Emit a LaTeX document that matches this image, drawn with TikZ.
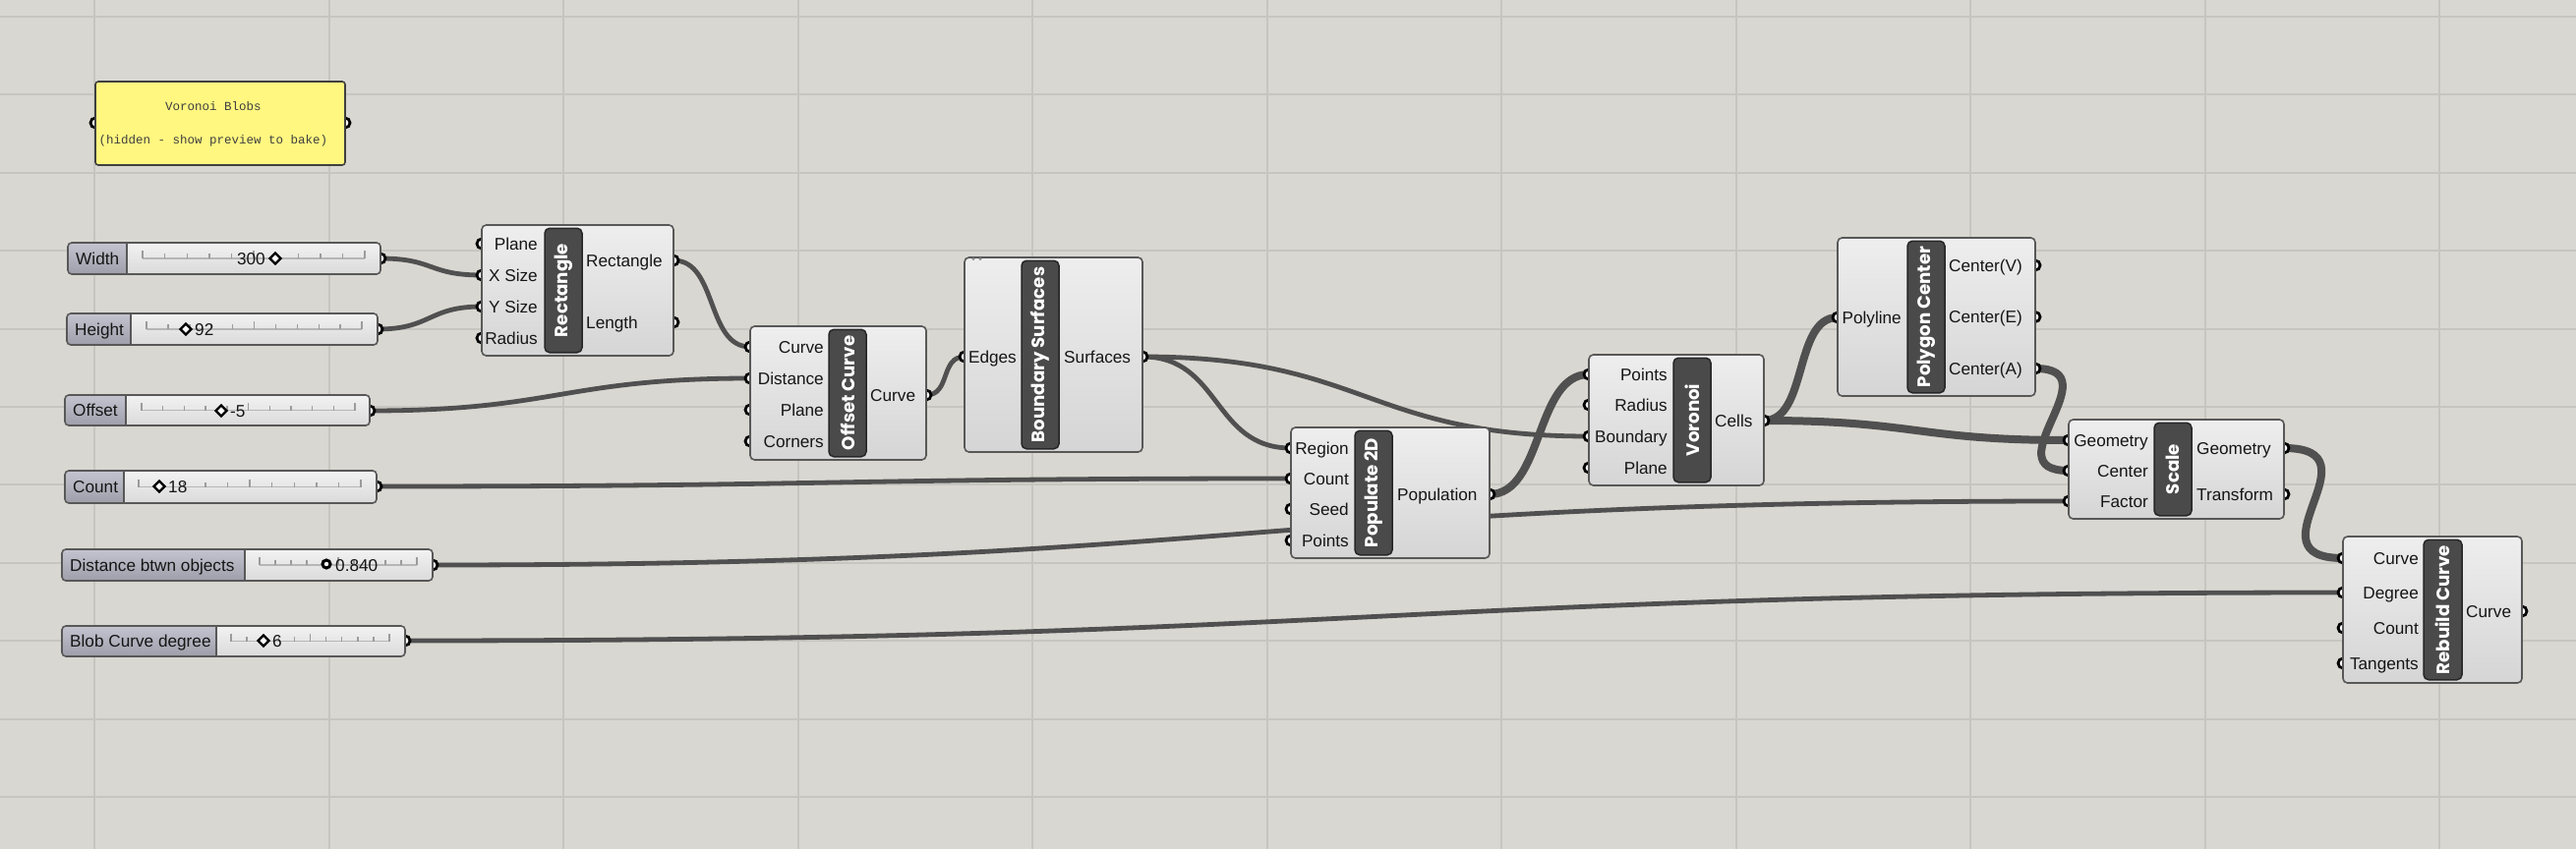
\documentclass[tikz,border=0pt]{standalone}
\usepackage{fontspec}
\setmainfont{Liberation Sans}
\newfontfamily\ghtitle{Poppins}
\newfontfamily\ghmono{Liberation Mono}
\definecolor{canvas}{RGB}{217,215,209}
\definecolor{gridc}{RGB}{199,197,191}
\definecolor{wirec}{RGB}{80,80,80}
\definecolor{boxedge}{RGB}{88,88,88}
\definecolor{barc}{RGB}{74,74,74}
\definecolor{paneyel}{RGB}{255,247,128}
\definecolor{comptop}{RGB}{238,238,238}
\definecolor{compbot}{RGB}{213,213,213}
\definecolor{labtop}{RGB}{196,196,208}
\definecolor{labbot}{RGB}{158,158,170}
\definecolor{slidtop}{RGB}{242,242,242}
\definecolor{slidbot}{RGB}{218,218,218}
\definecolor{trackc}{RGB}{182,182,182}
\definecolor{textc}{RGB}{22,22,22}
\newcommand\portfont{\fontsize{17.2}{20}\selectfont}
\tikzset{
  gridl/.style={draw=gridc, line width=2},
  wire/.style={draw=wirec, line width=4.8},
  wirelist/.style={draw=wirec, line width=8},
  gripc/.style={draw=black, fill=white, line width=2.8},
  compbox/.style={draw=boxedge, line width=1.6, rounded corners=4.5, top color=comptop, bottom color=compbot, inner sep=0},
  titlebar/.style={draw=black!85, line width=1.5, fill=barc, rounded corners=5, text=white, inner sep=0,
    font=\ghtitle\bfseries\fontsize{18.2}{20}\selectfont, rotate=90},
  portlab/.style={inner sep=0, text=textc, font=\portfont},
  sliderbox/.style={draw=boxedge, line width=1.6, rounded corners=4, inner sep=0},
  tickc/.style={draw=trackc!85!black, line width=1.4},
  trackl/.style={draw=trackc, line width=1.5},
  diamc/.style={draw=black, fill=white, line width=2.2},
  valtext/.style={inner sep=0, text=textc, font=\portfont},
  panelbox/.style={draw=black!75, line width=1.6, fill=paneyel, rounded corners=3, inner sep=0},
  paneltext/.style={inner sep=0, text=black!75, font=\ghmono\fontsize{12.5}{14}\selectfont},
}
% component: name, x1, y1, x2, y2, bar x1, bar x2, title
\newcommand\ghcomp[8]{%
  \node[compbox, minimum width={#4-#2}, minimum height={#5-#3}] (#1) at ({(#2+#4)/2},{(#3+#5)/2}) {};
  \node[titlebar, minimum width={#5-#3-6.5}, minimum height={#7-#6}] (#1-title) at ({(#6+#7)/2},{(#3+#5)/2}) {#8};
}
% slider: name, x1, y1, x2, y2, divider, label, track x1, track x2
\newcommand\ghslider[9]{%
  \begin{scope}
    \clip[rounded corners=4] (#2,#3) rectangle (#4,#5);
    \shade[top color=slidtop, bottom color=slidbot] (#2,#3) rectangle (#4,#5);
    \shade[top color=labtop, bottom color=labbot] (#2,#3) rectangle (#6,#5);
  \end{scope}
  \draw[draw=boxedge, line width=1.6] (#6,#3) -- (#6,#5);
  \node[sliderbox, minimum width={#4-#2}, minimum height={#5-#3}] (#1) at ({(#2+#4)/2},{(#3+#5)/2}) {};
  \node[portlab, anchor=base west] (#1-lab) at ({#2+8},{(#3+#5)/2+6}) {#7};
  \draw[trackl] (#8,{(#3+#5)/2}) -- (#9,{(#3+#5)/2});
  \foreach \i in {0,...,10} {
    \pgfmathsetmacro\th{(mod(\i,5)==0)?8:5}
    \draw[tickc] ({#8+(#9-#8)*\i/10},{(#3+#5)/2}) -- ++(0,-\th);
  }
}
\newcommand\ghdiamond[2]{\draw[diamc] (#1,{#2-5.5}) -- ({#1+5.5},#2) -- (#1,{#2+5.5}) -- ({#1-5.5},#2) -- cycle;}
\newcommand\inl[4]{\node[portlab, anchor=base east] (#1) at (#2,{#3+6}) {#4};}
\newcommand\outl[4]{\node[portlab, anchor=base west] (#1) at (#2,{#3+6}) {#4};}

\begin{document}
\begin{tikzpicture}[x=1pt,y=-1pt]
\fill[canvas] (0,0) rectangle (2620,864);
\useasboundingbox (0,0) rectangle (2620,864);
\foreach \k in {0,...,10} {
  \draw[gridl] ({96+238.5*\k},0) -- ({96+238.5*\k},864);
  \draw[gridl] (0,{17+79.4*\k}) -- (2620,{17+79.4*\k});
}

% ---------- grip coordinates ----------
\coordinate (pn-i) at (97,125);   \coordinate (pn-o) at (351,125);
\coordinate (sw-o) at (387,263);
\coordinate (sh-o) at (384,335);
\coordinate (so-o) at (376,418);
\coordinate (sc-o) at (383,495);
\coordinate (sd-o) at (440,575);
\coordinate (sb-o) at (412,652);
\coordinate (rect-i1) at (490,248); \coordinate (rect-i2) at (490,280);
\coordinate (rect-i3) at (490,312); \coordinate (rect-i4) at (490,344);
\coordinate (rect-o1) at (685,265); \coordinate (rect-o2) at (685,328);
\coordinate (oc-i1) at (763,353); \coordinate (oc-i2) at (763,385);
\coordinate (oc-i3) at (763,417); \coordinate (oc-i4) at (763,449);
\coordinate (oc-o1) at (942,402);
\coordinate (bs-i1) at (981,363); \coordinate (bs-o1) at (1162,363);
\coordinate (pop-i1) at (1313,456); \coordinate (pop-i2) at (1313,487);
\coordinate (pop-i3) at (1313,518); \coordinate (pop-i4) at (1313,550);
\coordinate (pop-o1) at (1515,503);
\coordinate (vor-i1) at (1616,381); \coordinate (vor-i2) at (1616,412);
\coordinate (vor-i3) at (1616,444); \coordinate (vor-i4) at (1616,476);
\coordinate (vor-o1) at (1794,428);
\coordinate (pc-i1) at (1869,323);
\coordinate (pc-o1) at (2070,270); \coordinate (pc-o2) at (2070,322.5); \coordinate (pc-o3) at (2070,375);
\coordinate (scl-i1) at (2104,448); \coordinate (scl-i2) at (2104,479); \coordinate (scl-i3) at (2104,510);
\coordinate (scl-o1) at (2323,456); \coordinate (scl-o2) at (2323,503);
\coordinate (rb-i1) at (2383,568); \coordinate (rb-i2) at (2383,603);
\coordinate (rb-i3) at (2383,639); \coordinate (rb-i4) at (2383,675);
\coordinate (rb-o1) at (2565,622);

% ---------- wires ----------
\draw[wire] (sw-o) .. controls +(55,0) and +(-55,0) .. (rect-i2);
\draw[wire] (sh-o) .. controls +(55,0) and +(-55,0) .. (rect-i3);
\draw[wire] (rect-o1) .. controls +(45,0) and +(-45,0) .. (oc-i1);
\draw[wire] (so-o) .. controls +(190,0) and +(-190,0) .. (oc-i2);
\draw[wire] (oc-o1) .. controls +(25,0) and +(-25,0) .. (bs-i1);
\draw[wire] (bs-o1) .. controls +(80,0) and +(-80,0) .. (pop-i1);
\draw[wire] (bs-o1) .. controls +(227,0) and +(-227,0) .. (vor-i3);
\draw[wire] (sc-o) .. controls +(465,0) and +(-465,0) .. (pop-i2);
\draw[wire] (sd-o) .. controls +(830,0) and +(-830,0) .. (scl-i3);
\draw[wire] (sb-o) .. controls +(986,0) and +(-986,0) .. (rb-i2);
\draw[wirelist] (pop-o1) .. controls +(55,0) and +(-55,0) .. (vor-i1);
\draw[wirelist] (vor-o1) .. controls +(45,0) and +(-45,0) .. (pc-i1);
\draw[wirelist] (vor-o1) .. controls +(155,0) and +(-155,0) .. (scl-i1);
\draw[wirelist] (pc-o3) .. controls +(80,0) and +(-80,0) .. (scl-i2);
\draw[wirelist] (scl-o1) .. controls +(100,0) and +(-100,0) .. (rb-i1);

% ---------- grips ----------
\foreach \g in {pn-i,pn-o,sw-o,sh-o,so-o,sc-o,sd-o,sb-o,
  rect-i1,rect-i2,rect-i3,rect-i4,rect-o1,rect-o2,
  oc-i1,oc-i2,oc-i3,oc-i4,oc-o1,bs-i1,bs-o1,
  pop-i1,pop-i2,pop-i3,pop-i4,pop-o1,
  vor-i1,vor-i2,vor-i3,vor-i4,vor-o1,
  pc-i1,pc-o1,pc-o2,pc-o3,
  scl-i1,scl-i2,scl-i3,scl-o1,scl-o2,
  rb-i1,rb-i2,rb-i3,rb-i4,rb-o1}
  \draw[gripc] (\g) circle (5);

% ---------- panel ----------
\node[panelbox, minimum width=254, minimum height=85] (panel) at (224,125.5) {};
\node[paneltext] (panel-t1) at (217,108) {Voronoi Blobs};
\node[paneltext] (panel-t2) at (217,143) {(hidden - show preview to bake)};

% ---------- sliders ----------
\ghslider{sw}{69}{247}{387}{279}{129}{Width}{145}{371}
\ghdiamond{280}{263}
\node[valtext, anchor=base east] (sw-val) at (270,269) {300};

\ghslider{sh}{68}{319}{384}{351}{133}{Height}{149}{368}
\ghdiamond{189}{335}
\node[valtext, anchor=base west] (sh-val) at (198,341) {92};

\ghslider{so}{66}{402}{376}{433}{128}{Offset}{144}{361}
\ghdiamond{225}{418}
\node[valtext, anchor=base west] (so-val) at (234,424) {-5};

\ghslider{sc}{66}{479}{383}{512}{126}{Count}{141}{367}
\ghdiamond{162}{495}
\node[valtext, anchor=base west] (sc-val) at (171,501) {18};

\ghslider{sd}{63}{559}{440}{591}{249}{Distance btwn objects}{264}{424}
\draw[draw=black, fill=white, line width=3] (332,574) circle (4);
\node[valtext, anchor=base west] (sd-val) at (341,581) {0.840};

\ghslider{sb}{63}{637}{412}{668}{220}{Blob Curve degree}{235}{396}
\ghdiamond{268}{652}
\node[valtext, anchor=base west] (sb-val) at (277,658) {6};

% ---------- components ----------
\ghcomp{rect}{490}{229}{685}{362}{554}{592}{Rectangle}
\inl{rect-l1}{547}{248}{Plane}
\inl{rect-l2}{547}{280}{X Size}
\inl{rect-l3}{547}{312}{Y Size}
\inl{rect-l4}{547}{344}{Radius}
\outl{rect-r1}{596}{265}{Rectangle}
\outl{rect-r2}{596}{328}{Length}

\ghcomp{oc}{763}{332}{942}{468}{843}{881}{Offset Curve}
\inl{oc-l1}{838}{353}{Curve}
\inl{oc-l2}{838}{385}{Distance}
\inl{oc-l3}{838}{417}{Plane}
\inl{oc-l4}{838}{449}{Corners}
\outl{oc-r1}{885}{402}{Curve}

\ghcomp{bs}{981}{262}{1162}{460}{1039}{1077}{Boundary Surfaces}
\fill[black!45] (990,263.5) circle (1.6) (997,263.5) circle (1.6);
\inl{bs-l1}{1034}{363}{Edges}
\outl{bs-r1}{1082}{363}{Surfaces}

\ghcomp{pop}{1313}{435}{1515}{568}{1378}{1416}{Populate 2D}
\inl{pop-l1}{1372}{456}{Region}
\inl{pop-l2}{1372}{487}{Count}
\inl{pop-l3}{1372}{518}{Seed}
\inl{pop-l4}{1372}{550}{Points}
\outl{pop-r1}{1421}{503}{Population}

\ghcomp{vor}{1616}{361}{1794}{494}{1702}{1740}{Voronoi}
\inl{vor-l1}{1696}{381}{Points}
\inl{vor-l2}{1696}{412}{Radius}
\inl{vor-l3}{1696}{444}{Boundary}
\inl{vor-l4}{1696}{476}{Plane}
\outl{vor-r1}{1744}{428}{Cells}

\ghcomp{pc}{1869}{242}{2070}{403}{1940}{1978}{Polygon Center}
\inl{pc-l1}{1934}{323}{Polyline}
\outl{pc-r1}{1982}{270}{Center(V)}
\outl{pc-r2}{1982}{322.5}{Center(E)}
\outl{pc-r3}{1982}{375}{Center(A)}

\ghcomp{scl}{2104}{427}{2323}{528}{2191}{2229}{Scale}
\inl{scl-l1}{2185}{448}{Geometry}
\inl{scl-l2}{2185}{479}{Center}
\inl{scl-l3}{2185}{510}{Factor}
\outl{scl-r1}{2234}{456}{Geometry}
\outl{scl-r2}{2234}{503}{Transform}

\ghcomp{rb}{2383}{546}{2565}{695}{2465}{2504}{Rebuild Curve}
\inl{rb-l1}{2460}{568}{Curve}
\inl{rb-l2}{2460}{603}{Degree}
\inl{rb-l3}{2460}{639}{Count}
\inl{rb-l4}{2460}{675}{Tangents}
\outl{rb-r1}{2508}{622}{Curve}
\end{tikzpicture}
\end{document}
